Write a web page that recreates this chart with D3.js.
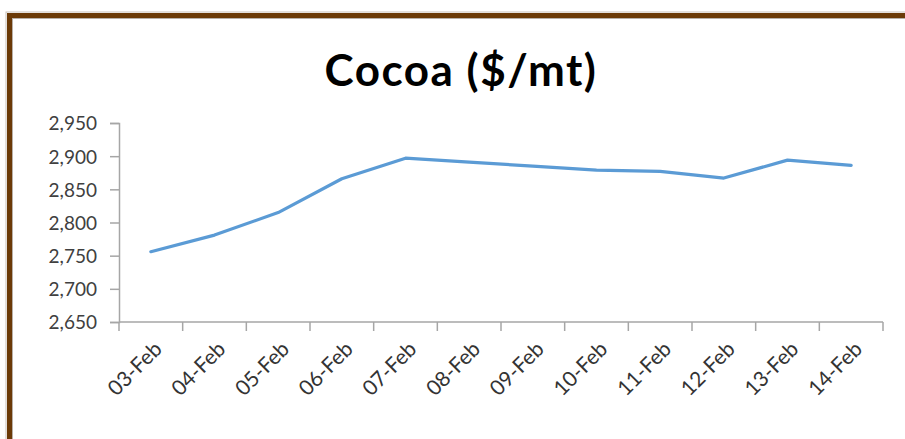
<!DOCTYPE html>
<html>
<head>
<meta charset="utf-8">
<script src="https://cdn.jsdelivr.net/npm/d3@7"></script>
<style>
  body { margin: 0; background: #fff; }
  svg { display: block; }
  .axis path, .axis line { stroke: #a6a6a6; stroke-width: 1.5; }
  .axis text { fill: #404040; font-family: "Century Gothic", "URW Gothic", Lato, sans-serif; font-size: 19px; }
  .axis .lbl { font-size: 21px; fill: #333; }
</style>
</head>
<body>
<svg class="chart"></svg>
<script>
var dates = ["03-Feb", "04-Feb", "05-Feb", "06-Feb", "07-Feb", "08-Feb",
             "09-Feb", "10-Feb", "11-Feb", "12-Feb", "13-Feb", "14-Feb"];
var prices = [2756, 2781, 2815, 2866, 2897, 2891, 2885, 2879, 2877, 2867, 2894, 2886];
var yTicks = [2650, 2700, 2750, 2800, 2850, 2900, 2950];
var title = "Cocoa ($/mt)";

(function show() {
    'use strict';

    var W = 905, H = 439;
    var margin = {top: 123, right: 22, bottom: 117, left: 119},
        width = W - margin.left - margin.right,
        height = H - margin.top - margin.bottom;

    var svg = d3.select(".chart")
        .attr("width", W)
        .attr("height", H);

    // brown frame, only the top and left edges fall inside the picture
    svg.append("rect")
        .attr("x", 6).attr("y", 12)
        .attr("width", W + 20).attr("height", H + 20)
        .style("fill", "none").style("stroke", "#c8c0b8").style("stroke-width", 1);
    svg.append("rect")
        .attr("x", 9.5).attr("y", 15.5)
        .attr("width", W + 20).attr("height", H + 20)
        .style("fill", "none").style("stroke", "#6b3a07").style("stroke-width", 5);
    svg.append("rect")
        .attr("x", 12.5).attr("y", 18.5)
        .attr("width", W + 20).attr("height", H + 20)
        .style("fill", "none").style("stroke", "#b8b0a8").style("stroke-width", 1);

    svg.append("text")
        .attr("x", 461).attr("y", 86)
        .attr("text-anchor", "middle")
        .style("font-family", '"Century Gothic", "URW Gothic", Lato, sans-serif')
        .style("font-weight", "bold")
        .style("font-size", "44px")
        .style("letter-spacing", "1.5px")
        .style("fill", "#000")
        .text(title);

    var chart = svg.append("g")
        .attr("transform", "translate(" + margin.left + "," + margin.top + ")");

    var x = d3.scaleBand().domain(dates).range([0, width]);
    var y = d3.scaleLinear().domain([2650, 2950]).range([height, 0]);

    var yAxis = chart.append("g")
        .attr("class", "axis")
        .call(d3.axisLeft(y).tickValues(yTicks).tickSize(9).tickPadding(13)
            .tickFormat(d3.format(",")));
    yAxis.selectAll("text").attr("dy", "0.36em");

    // category ticks sit on band edges
    var xAxis = chart.append("g")
        .attr("class", "axis")
        .attr("transform", "translate(0," + height + ")")
        .call(d3.axisBottom(x).tickSize(0).tickFormat(""));
    xAxis.select(".domain").attr("d", "M0,0H" + width);

    xAxis.selectAll(".edge")
        .data(d3.range(dates.length + 1))
        .enter().append("line")
        .attr("class", "edge")
        .attr("x1", function(i) { return i * x.step(); })
        .attr("x2", function(i) { return i * x.step(); })
        .attr("y1", 0).attr("y2", 9);

    xAxis.selectAll(".lbl")
        .data(dates)
        .enter().append("text")
        .attr("class", "lbl")
        .attr("text-anchor", "end")
        .attr("transform", function(d) {
            return "translate(" + (x(d) + x.bandwidth() / 2 + 2) + ",18) rotate(-45)";
        })
        .attr("dy", "0.7em")
        .text(function(d) { return d; });

    var line = d3.line()
        .x(function(d, i) { return x(dates[i]) + x.bandwidth() / 2; })
        .y(function(d) { return y(d); });

    chart.append("path")
        .datum(prices)
        .attr("d", line)
        .style("fill", "none")
        .style("stroke", "#5b9bd5")
        .style("stroke-width", 3.2)
        .style("stroke-linejoin", "round")
        .style("stroke-linecap", "round");
})();
</script>
</body>
</html>
